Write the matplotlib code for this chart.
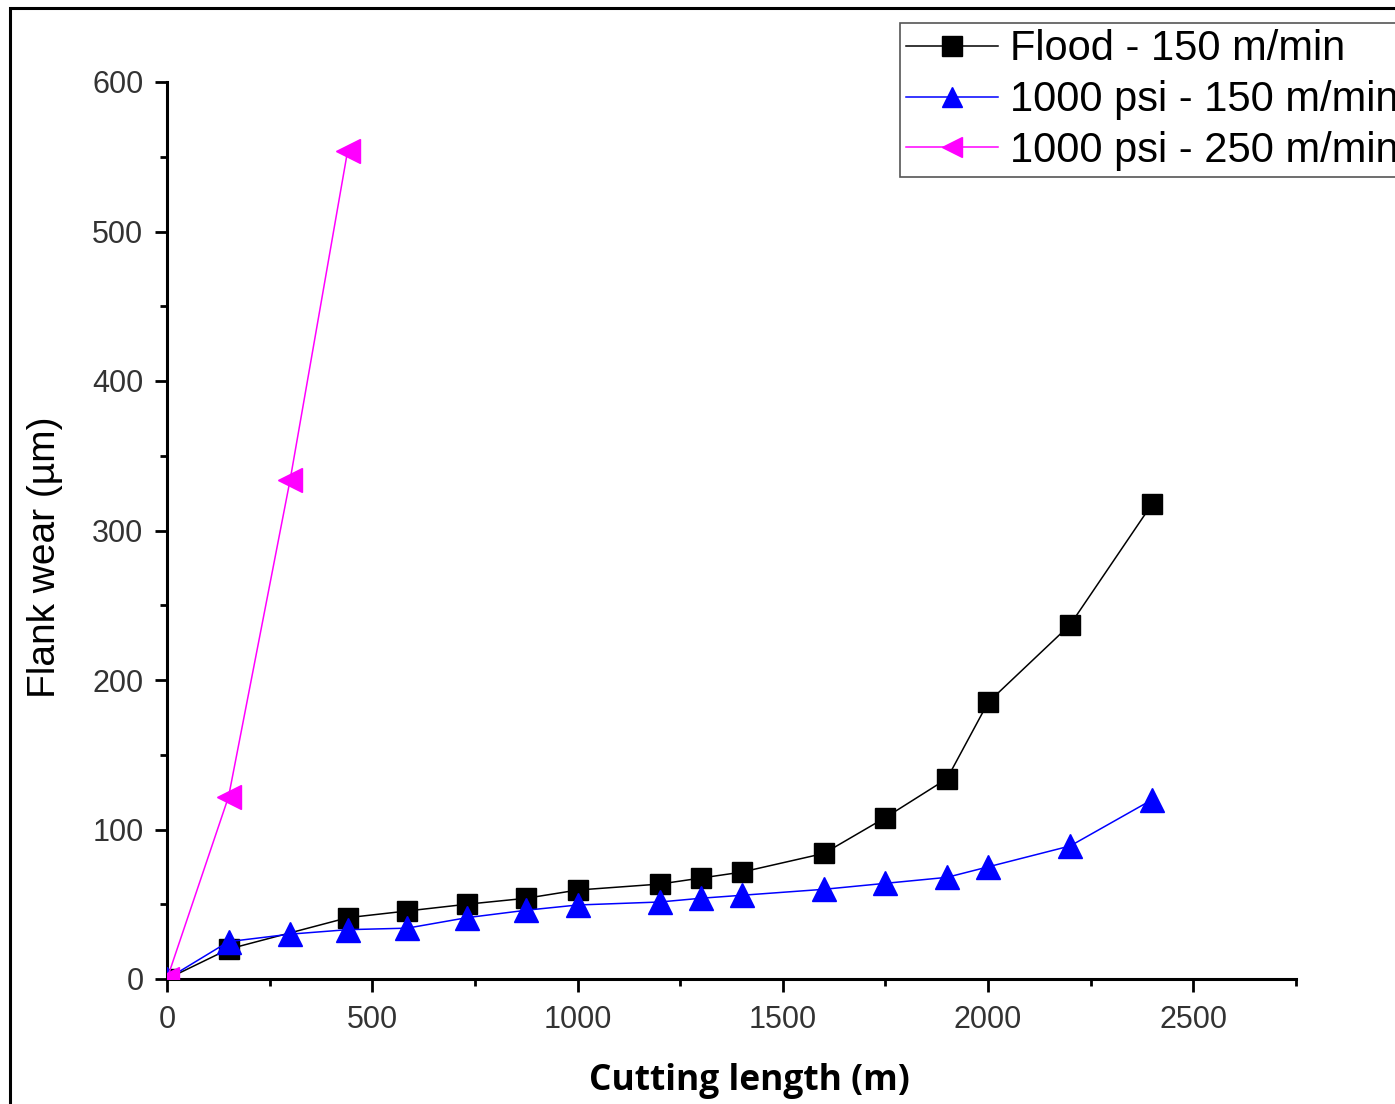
import numpy as np
import matplotlib.pyplot as plt
from matplotlib.patches import Rectangle
from matplotlib.ticker import MultipleLocator

# cutting length (m) and flank wear (um)
flood_x = [0, 150, 440, 585, 730, 875, 1000, 1200, 1300, 1400, 1600, 1750, 1900, 2000, 2200, 2400]
flood_y = [0, 20, 41, 45.5, 50, 54, 59.5, 63.5, 67.5, 71.5, 84, 108, 134, 185, 237, 318]

psi150_x = [0, 150, 300, 440, 585, 730, 875, 1000, 1200, 1300, 1400, 1600, 1750, 1900, 2000, 2200, 2400]
psi150_y = [0, 25, 30, 33, 34, 41, 46, 49.5, 51.5, 54, 56, 60, 64, 68, 75, 89, 120]

psi250_x = [0, 150, 300, 440]
psi250_y = [0, 122, 334, 554]

labels = ["Flood - 150 m/min", "1000 psi - 150 m/min", "1000 psi - 250 m/min"]

plt.rcParams['font.family'] = ['Liberation Sans', 'DejaVu Sans']

fig = plt.figure(figsize=(13.95, 11.04), dpi=100)
ax = fig.add_axes([167/1395, 1 - 979/1104, (1296 - 167)/1395, (979 - 82)/1104])

ax.plot(flood_x, flood_y, color='black', lw=1.1, marker='s', ms=15, label=labels[0], zorder=3)
ax.plot(psi150_x, psi150_y, color='#0000ff', lw=1.1, marker='^', ms=17, label=labels[1], zorder=4)
ax.plot(psi250_x, psi250_y, color='#ff00ff', lw=1.1, marker='<', ms=17, label=labels[2], zorder=5)

ax.set_xlim(0, 2750)
ax.set_ylim(0, 600)
ax.xaxis.set_major_locator(MultipleLocator(500))
ax.xaxis.set_minor_locator(MultipleLocator(250))
ax.yaxis.set_major_locator(MultipleLocator(100))
ax.yaxis.set_minor_locator(MultipleLocator(50))

for s in ['top', 'right']:
    ax.spines[s].set_visible(False)
for s in ['left', 'bottom']:
    ax.spines[s].set_linewidth(2.2)

ax.tick_params(which='major', direction='out', length=9, width=2, labelsize=22,
               labelcolor='#333333', pad=8)
ax.tick_params(axis='x', which='major', pad=10)
ax.tick_params(which='minor', direction='out', length=5, width=2)

ax.set_ylabel("Flank wear (\u00b5m)", fontsize=28)
ax.yaxis.set_label_coords(-0.092, 0.47)
ax.set_xlabel("Cutting length (m)", fontsize=25.5, fontweight='bold',
              family=['Open Sans', 'DejaVu Sans'])
ax.xaxis.set_label_coords(0.516, -0.094)

leg = fig.legend(loc='upper left', bbox_to_anchor=(900/1395, 1 - 23/1104),
                 fontsize=30, frameon=True, fancybox=False, framealpha=1,
                 edgecolor='#555555', handlelength=2.2, handletextpad=0.3,
                 labelspacing=0.26, borderpad=0.15, borderaxespad=0)
leg.get_frame().set_linewidth(1.2)
for h in leg.legend_handles:
    h.set_markersize(15)

# outer frame of the original picture, cut off at right and bottom
fig.patches.append(Rectangle((10/1395, -0.1), 1.2, 1 - 8/1104 + 0.1, transform=fig.transFigure,
                             fill=False, lw=2.2, edgecolor='black'))

fig.savefig("out.png", dpi=100)
